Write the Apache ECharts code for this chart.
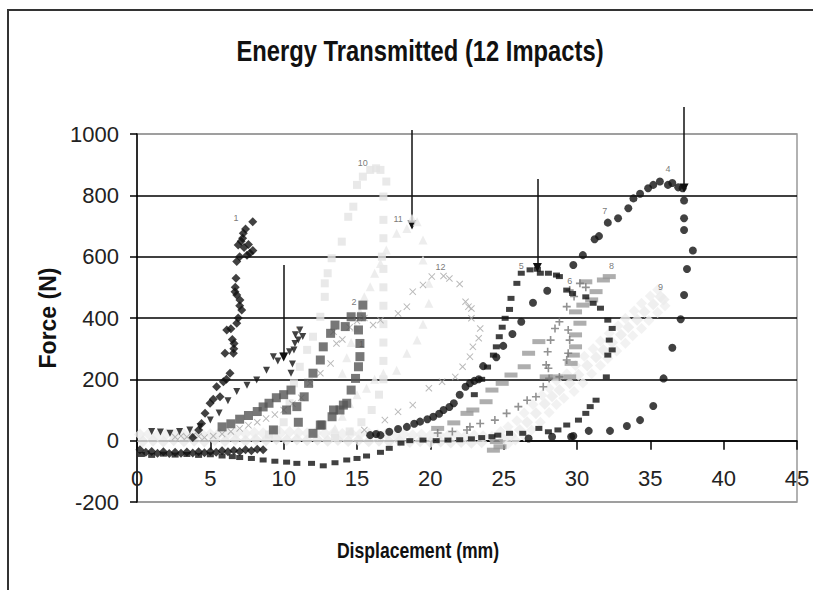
<!DOCTYPE html>
<html><head><meta charset="utf-8">
<script src="https://cdn.jsdelivr.net/npm/echarts@6/dist/echarts.min.js"></script>
<style>html,body{margin:0;padding:0;background:#fff}#c{width:813px;height:590px}</style>
</head><body><div id="c"></div>
<script>
// ---- axis ticks ----
const xTicks = [0,5,10,15,20,25,30,35,40,45];
const yTicks = [-200,0,200,400,600,800,1000];

// ---- series data [displacement mm, force N] ----
const s1 = [[0.2,-30],[0.6,-38],[1.0,-35],[1.4,-41],[1.8,-36],[2.2,-42],[2.6,-38],[3.0,-41],[3.4,-37],[3.8,-40],[4.2,-36],[4.6,-39],[5.0,-35],[5.4,-38],[5.8,-33],[6.2,-36],[6.6,-32],[7.0,-35],[7.4,-30],[7.8,-33],[8.2,-28],[8.6,-30],
  [3.8,10],[4.2,35],[4.4,56],[4.64,89],[4.98,122],[5.2,135],[5.43,176],[5.66,143],[5.89,192],[6.1,200],[6.34,220],[6.0,285],[6.57,285],[6.6,300],[6.62,317],[6.5,330],[6.12,361],[6.4,365],[6.8,383],[6.9,400],[7.14,426],[7.0,440],[7.02,459],[6.8,475],[6.68,486],[6.7,500],[6.75,530],[6.8,584],[7.0,600],[7.5,605],[7.7,611],[7.9,620],[7.3,630],[6.9,638],[7.1,650],[7.25,676],[7.4,690],[7.2,660],[7.6,640],[7.89,714]];
const s2 = [[5.8,45],[6.4,55],[7.0,70],[7.6,82],[8.2,95],[8.6,110],[9.0,122],[9.5,140],[10.0,150],[10.5,165],[10.2,100],[10.9,111],[11.4,143],[11.7,187],[12.0,220],[12.5,263],[12.7,306],[13.2,350],[13.5,377],[14.2,372],[14.6,404],[15.4,442],[15.3,404],[15.1,361],[15.2,317],[15.2,274],[15.1,241],[14.9,203],[14.6,165],[14.3,122],[14.07,116],[13.84,100],[13.4,100],[13.3,78],[12.6,51],[12.5,51],[12.0,24],[9.3,35],[11.0,60]];
const s3 = [[1.0,30],[1.6,28],[2.25,24],[2.9,30],[3.6,35],[4.3,45],[5.0,67],[5.6,90],[6.2,130],[6.8,160],[7.5,181],[8.16,198],[8.83,230],[9.3,274],[9.6,260],[10.0,275],[10.4,290],[10.5,220],[10.6,250],[10.7,296],[10.77,317],[11.0,328],[10.8,345],[11.1,361],[11.3,340]];
const s4 = [[33.85,790],[34.3,805],[34.85,823],[35.2,834],[35.65,845],[36.2,834],[36.5,840],[36.9,826],[37.2,823],[37.3,783],[37.3,725],[37.3,687],[37.9,620],[37.5,560],[37.3,475],[37.07,396],[36.5,303],[35.9,203],[35.2,113],[34.3,67],[33.4,48],[32.25,32],[30.8,32],[29.75,15],[29.6,13],[28.3,13],[26.7,7]];
const s7 = [[15.9,18],[16.3,22],[16.6,18],[17.2,29],[17.8,38],[18.4,45],[18.9,55],[19.3,62],[19.8,70],[20.2,78],[20.6,88],[20.9,100],[21.3,110],[21.6,122],[22.0,150],[22.4,176],[22.7,187],[23.0,195],[23.3,200],[23.6,243],[24.5,272],[24.97,309],[25.6,348],[26.2,388],[27.0,450],[27.97,489],[29.75,573],[30.4,605],[31.2,657],[31.5,667],[32.1,711],[32.8,725],[33.5,758]];
const s5 = [[0.3,-45],[1.0,-48],[1.8,-44],[2.6,-47],[3.4,-45],[4.2,-48],[5.0,-46],[5.8,-50],[6.5,-52],[7.0,-55],[7.8,-58],[8.6,-63],[9.4,-67],[10.2,-70],[10.9,-74],[11.9,-74],[12.7,-82],[13.5,-72],[14.3,-63],[15.0,-58],[15.65,-50],[16.6,-38],[17.2,-25],[18.0,-8],[18.6,0],[19.5,2],[20.4,0],[21.2,2],[22.0,3],[22.8,6],[23.5,10],[24.2,13],
  [23.0,150],[23.5,200],[23.9,240],[24.3,279],[24.5,306],[24.7,339],[24.9,370],[25.1,399],[25.4,428],[25.5,464],[25.9,513],[26.2,546],[26.8,557],[27.3,559],[27.5,546],[28.05,546],[28.6,540],[28.8,535],[29.3,491],[29.7,480],[30.6,469],[31.1,448],[31.6,432],[32.1,393],[32.4,366],[32.2,328],[32.4,296],[32.1,279],[32.0,208],[31.3,132],[30.9,111],[30.6,89],[30.1,67],[29.3,51],[28.7,35],[28.05,29],[27.4,40],[26.3,24],[25.4,24],[24.6,18]];
const s6 = [[20.5,25],[21.5,30],[22.5,35],[22.7,45],[23.4,56],[24.4,67],[25.2,89],[26.0,111],[26.6,132],[27.2,143],[27.7,176],[28.1,203],[28.05,236],[27.9,247],[28.0,290],[28.2,328],[28.5,366],[28.8,388],[29.3,437],[29.5,491],[30.2,513],[30.6,500],[29.8,470],[29.4,361],[29.5,328],[29.4,285],[29.3,263],[28.8,208]];
const s8 = [[20.5,40],[21.6,58],[22.5,89],[22.9,100],[23.8,127],[24.2,165],[24.9,187],[25.5,214],[26.4,241],[26.7,285],[27.4,323],[27.9,208],[28.6,208],[29.5,208],[29.6,252],[29.75,279],[29.9,306],[29.9,345],[30.2,383],[29.9,420],[30.4,442],[31.0,459],[31.3,486],[30.6,518],[31.8,524],[32.2,535],[24.5,-3],[24.3,-31],[24.75,-20]];
const s9 = [[25.0,5],[25.5,18],[26.1,35],[26.6,60],[27.2,89],[27.8,120],[28.3,145],[28.8,165],[29.5,187],[30.1,215],[30.7,245],[31.3,272],[31.8,296],[32.4,320],[33.0,345],[33.5,370],[34.1,394],[34.6,420],[35.2,445],[35.7,469],[35.9,460]];
const s9upper = [[24.8,30],[25.3,45],[25.9,65],[26.4,90],[27.0,118],[27.6,148],[28.1,172],[28.6,195],[29.3,218],[29.9,245],[30.5,275],[31.1,300],[31.6,325],[32.2,350],[32.8,375],[33.3,398],[33.9,423],[34.4,448],[35.0,472],[35.5,492]];
const s9lower = [[25.3,-10],[25.8,2],[26.4,15],[26.9,35],[27.5,60],[28.1,92],[28.6,118],[29.1,138],[29.8,160],[30.4,188],[31.0,218],[31.6,245],[32.1,268],[32.7,292],[33.3,318],[33.8,342],[34.4,366],[34.9,392],[35.5,418],[36.0,440]];
const baseTop = [[0.2,20],[0.8,22],[1.4,18],[2.0,21],[2.6,19],[3.2,22],[3.8,20],[4.4,23],[5.0,21],[5.6,24],[6.2,22],[6.8,25],[7.4,23],[8.0,26],[8.6,24],[9.2,27],[9.8,25],[10.4,28],[11.0,26],[11.6,24],[12.2,26],[12.8,23],[13.4,25],[14.0,22],[14.6,24],[15.2,21],[15.8,23],[16.4,20],[17.0,22],[17.6,19],[18.2,21],[18.8,18],[19.4,20],[20.0,17],[20.6,19],[21.2,16],[21.8,18],[22.4,15],[23.0,17],[23.6,14],[24.2,12]];
const baseBottom = [[0.4,-2],[1.1,0],[1.8,-3],[2.5,1],[3.2,-2],[3.9,0],[4.6,-3],[5.3,2],[6.0,-1],[6.7,3],[7.4,0],[8.1,4],[8.8,1],[9.5,5],[10.2,2],[10.9,4],[11.6,1],[12.3,3],[13.0,0],[13.7,2],[14.4,-1],[15.1,1],[15.8,-2],[16.5,0],[17.2,-3],[17.9,-1],[18.6,-4],[19.3,-2],[20.0,-5],[20.7,-3],[21.4,-6],[22.1,-4],[22.8,-7],[23.5,-5]];
const s10 = [[9.0,20],[9.5,35],[10.0,60],[10.4,122],[10.7,187],[11.1,241],[11.6,296],[12.0,339],[12.5,404],[12.8,469],[12.8,513],[13.0,546],[13.27,595],[13.96,649],[14.4,730],[14.75,763],[15.0,834],[15.4,861],[15.9,883],[16.3,888],[16.6,883],[17.0,845],[16.8,796],[16.8,720],[16.8,660],[16.7,600],[16.8,560],[16.8,500],[16.8,440],[16.8,380],[16.8,320],[16.8,260],[16.8,200],[16.5,150],[16.0,100],[15.3,60],[14.5,30],[13.5,10]];
const s11 = [[13.5,40],[14.0,80],[14.5,120],[15.0,150],[15.65,171],[16.2,200],[16.8,220],[17.7,230],[18.4,285],[19.1,328],[19.5,380],[19.9,448],[19.9,513],[19.5,589],[19.5,654],[19.1,714],[18.75,725],[18.4,692],[17.7,676],[17.0,622],[16.6,578],[16.2,546],[15.9,502],[15.5,469],[15.2,420],[14.9,370],[14.6,320],[14.3,270],[14.0,220]];
const s12 = [[20.1,535],[20.9,537],[21.3,529],[22.0,511],[22.4,453],[22.6,437],[22.8,431],[22.8,399],[23.4,366],[23.3,334],[22.9,306],[22.7,274],[22.2,241],[21.7,208],[20.8,192],[19.9,171],[18.8,116],[17.8,94],[16.9,67],[15.5,35],
  [19.5,508],[18.8,486],[18.4,437],[17.8,415],[16.6,393],[16.1,377],[15.5,400],[15.0,390],[14.5,370],[14.0,330],[13.6,317],[13.4,355],[13.2,252],[12.5,220],[11.8,187],[11.2,140],[10.6,120],[10.0,100],[9.4,85],[8.8,72],[8.2,60],[7.6,50],[7.0,40],[6.4,30],[5.8,22],[5.2,15],[4.6,10],[2.6,12],[3.0,15],[3.4,12],[3.8,16],[4.2,14]];

// ---- impact number labels [x, y, text] ----
const impactLabels = [[6.75,728,'1'],[15.3,317,'1'],[14.8,455,'2'],[11.0,364,'3'],[36.2,888,'4'],[26.2,573,'5'],[29.5,524,'6'],[31.9,752,'7'],[32.35,573,'8'],[35.7,504,'9'],[15.4,910,'10'],[17.8,725,'11'],[20.7,570,'12']];
// ---- arrows [x, yStart, yEnd] ----
const arrows = [[10.0,573,273],[18.75,1013,703],[27.3,853,565],[37.3,1088,824]];

const SANS = "'Liberation Sans', Arial, sans-serif";
const plus = 'path://M4,0H6V4H10V6H6V10H4V6H0V4H4Z';
const cross = 'path://M1,0L5,4L9,0L10,1L6,5L10,9L9,10L5,6L1,10L0,9L4,5L0,1Z';

function sc(name, data, symbol, size, color, extra) {
  return Object.assign({type:'scatter', name, data, symbol, symbolSize:size, itemStyle:{color}, silent:true, animation:false}, extra||{});
}

const chart = echarts.init(document.getElementById('c'), null, {renderer:'svg'});
chart.setOption({
  animation:false,
  backgroundColor:'#fff',
  grid:{left:137, top:134, width:660, height:368, show:true, borderColor:'#999', borderWidth:1.5, backgroundColor:'transparent'},
  xAxis:{type:'value', min:xTicks[0], max:xTicks[xTicks.length-1], interval:5,
    position:'bottom', offset:-61.33,
    axisLine:{onZero:false, lineStyle:{color:'#000', width:1.5}},
    axisTick:{show:true, length:9, lineStyle:{color:'#000', width:1.5}},
    axisLabel:{fontFamily:SANS, fontSize:22, color:'#222', margin:27, formatter:v=>String(v)},
    splitLine:{show:false}},
  yAxis:{type:'value', min:yTicks[0], max:yTicks[yTicks.length-1], interval:200,
    axisLine:{show:true, onZero:false, lineStyle:{color:'#000', width:1.5}},
    axisTick:{show:true, length:7, lineStyle:{color:'#000', width:1.5}},
    axisLabel:{fontFamily:SANS, fontSize:22, color:'#222', margin:18, formatter:v=>String(v)},
    splitLine:{show:true, lineStyle:{color:['#999','#000','#000','#000','#000','#000','#999'], width:1.5}}},
  graphic:[
    {type:'rect', shape:{x:8, y:10, width:900, height:700}, style:{fill:'none', stroke:'#333', lineWidth:2}, silent:true},
    {type:'text', x:420, y:51, scaleX:0.82, style:{text:'Energy Transmitted (12 Impacts)', font:"bold 29px "+SANS, fill:'#111', align:'center', verticalAlign:'middle'}},
    {type:'text', x:48, y:318, rotation:Math.PI/2, style:{text:'Force (N)', font:"bold 23px "+SANS, fill:'#111', align:'center', verticalAlign:'middle'}},
    {type:'text', x:418, y:550, scaleX:0.8, style:{text:'Displacement (mm)', font:"bold 22px "+SANS, fill:'#111', align:'center', verticalAlign:'middle'}}
  ],
  series:[
    sc('base1', baseTop, 'diamond', 12, '#eeeeee'),
    sc('base2', baseBottom, 'diamond', 12, '#e9e9e9'),
    sc('9a', s9upper, 'diamond', 11, '#efefef'),
    sc('9b', s9lower, 'diamond', 11, '#efefef'),
    sc('9', s9, 'diamond', 12, '#ebebeb'),
    sc('10', s10, 'rect', 8, '#e4e4e4'),
    sc('11', s11, 'triangle', 9, '#e9e9e9'),
    sc('12', s12, cross, 7, '#a8a8a8'),
    sc('8', s8, 'rect', [13,5], '#9a9a9a'),
    sc('6', s6, plus, 8, '#777777'),
    sc('2', s2, 'rect', 9, '#555555'),
    sc('5', s5, 'rect', [7,5], '#111111'),
    sc('7', s7, 'circle', 8, '#111111'),
    sc('4', s4, 'circle', 8, '#111111'),
    sc('3', s3, 'triangle', 7, '#111111', {symbolRotate:180}),
    sc('1', s1, 'diamond', 9, '#111111'),
    {type:'lines', coordinateSystem:'cartesian2d', clip:false, silent:true, animation:false,
      symbol:['none','triangle'], symbolSize:9,
      lineStyle:{color:'#111', width:1.5, opacity:1},
      data: arrows.map(a => ({coords:[[a[0],a[1]],[a[0],a[2]]]}))},
    {type:'scatter', name:'labels', symbol:'circle', symbolSize:1, silent:true, animation:false,
      itemStyle:{color:'rgba(0,0,0,0)'},
      data: impactLabels.map(l => ({value:[l[0],l[1]], name:l[2]})),
      label:{show:true, position:'top', distance:-6, formatter:p=>p.name, fontSize:9, color:'#555555', textBorderWidth:0, fontFamily:'Arial, sans-serif'}}
  ]
});
</script></body></html>
